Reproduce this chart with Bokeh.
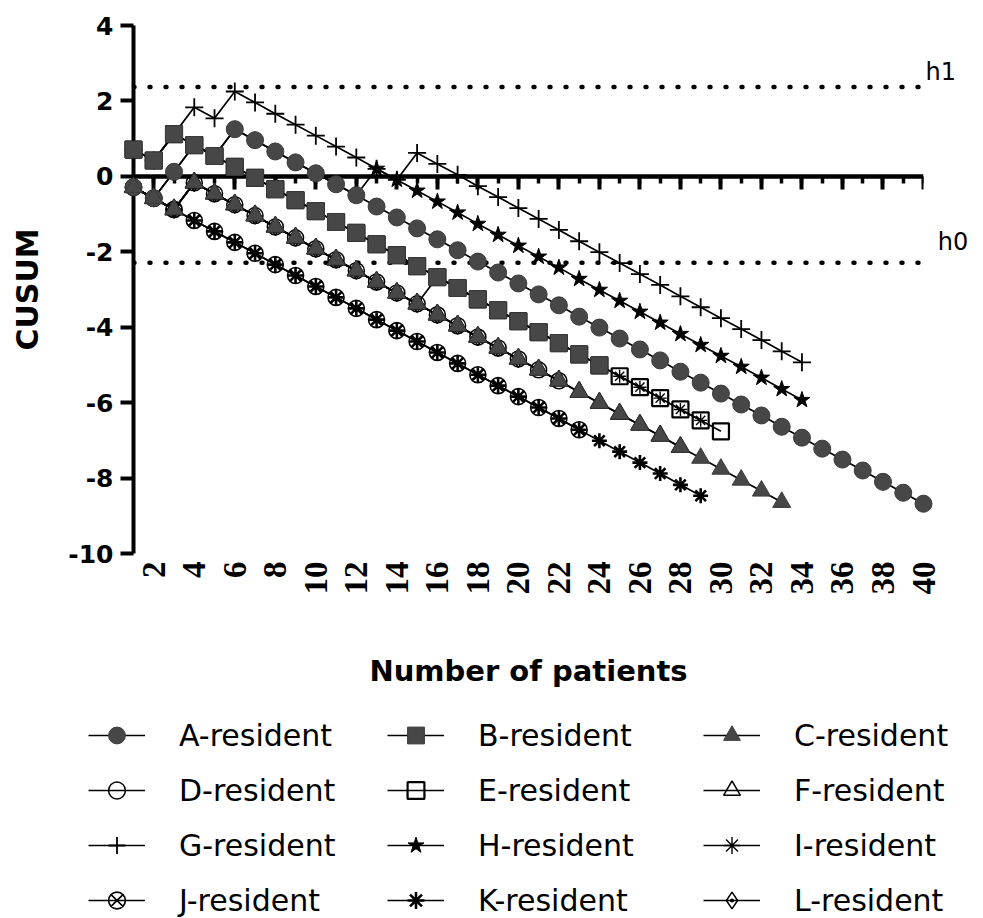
import math
from bokeh.plotting import figure
from bokeh.models import Range1d, LinearAxis, FixedTicker, Legend, LegendItem
from bokeh.layouts import column
from bokeh.embed import file_html
from bokeh.resources import INLINE
from bokeh.core.properties import value

# ---------------- data ----------------
patients_A = list(range(1, 41))
cusum_A = [-0.29, -0.58, 0.12, 0.83, 0.54, 1.25, 0.96, 0.66, 0.37, 0.08,
           -0.21, -0.50, -0.80, -1.09, -1.38, -1.67, -1.96, -2.26, -2.55, -2.84,
           -3.13, -3.42, -3.72, -4.01, -4.30, -4.59, -4.88, -5.18, -5.47, -5.76,
           -6.05, -6.34, -6.64, -6.93, -7.22, -7.51, -7.80, -8.10, -8.39, -8.68]
patients_B = list(range(1, 25))
cusum_B = [0.71, 0.42, 1.12, 0.83, 0.54, 0.25, -0.04, -0.34, -0.63, -0.92,
           -1.21, -1.50, -1.80, -2.09, -2.38, -2.67, -2.96, -3.26, -3.55, -3.84,
           -4.13, -4.42, -4.72, -5.01]
patients_C = list(range(1, 34))
cusum_C = [-0.29, -0.58, -0.88, -0.17, -0.46, -0.75, -1.04, -1.34, -1.63, -1.92,
           -2.21, -2.50, -2.80, -3.09, -3.38, -3.67, -3.96, -4.26, -4.55, -4.84,
           -5.13, -5.42, -5.72, -6.01, -6.30, -6.59, -6.88, -7.18, -7.47, -7.76,
           -8.05, -8.34, -8.64]
patients_D = list(range(1, 23))
cusum_D = [-0.29, -0.58, -0.88, -0.17, -0.46, -0.75, -1.04, -1.34, -1.63, -1.92,
           -2.21, -2.50, -2.80, -3.09, -3.38, -3.67, -3.96, -4.26, -4.55, -4.84,
           -5.13, -5.42]
patients_E = list(range(1, 31))
cusum_E = [0.71, 0.42, 1.12, 0.83, 0.54, 0.25, -0.04, -0.34, -0.63, -0.92,
           -1.21, -1.50, -1.80, -2.09, -2.38, -2.67, -2.96, -3.26, -3.55, -3.84,
           -4.13, -4.42, -4.72, -5.01, -5.30, -5.59, -5.88, -6.18, -6.47, -6.76]
patients_F = list(range(1, 29))
cusum_F = [-0.29, -0.58, -0.88, -0.17, -0.46, -0.75, -1.04, -1.34, -1.63, -1.92,
           -2.21, -2.50, -2.80, -3.09, -3.38, -3.67, -3.96, -4.26, -4.55, -4.84,
           -5.13, -5.42, -5.72, -6.01, -6.30, -6.59, -6.88, -7.18]
patients_G = list(range(1, 35))
cusum_G = [0.71, 0.42, 1.12, 1.83, 1.54, 2.25, 1.96, 1.66, 1.37, 1.08,
           0.79, 0.50, 0.20, -0.09, 0.62, 0.33, 0.04, -0.26, -0.55, -0.84,
           -1.13, -1.42, -1.72, -2.01, -2.30, -2.59, -2.88, -3.18, -3.47, -3.76,
           -4.05, -4.34, -4.64, -4.93]
patients_H = list(range(1, 35))
cusum_H = [-0.29, -0.58, 0.12, 0.83, 0.54, 1.25, 0.96, 0.66, 0.37, 0.08,
           -0.21, -0.50, 0.20, -0.09, -0.38, -0.67, -0.96, -1.26, -1.55, -1.84,
           -2.13, -2.42, -2.72, -3.01, -3.30, -3.59, -3.88, -4.18, -4.47, -4.76,
           -5.05, -5.34, -5.64, -5.93]
patients_I = list(range(1, 30))
cusum_I = [-0.29, -0.58, -0.88, -0.17, -0.46, -0.75, -1.04, -1.34, -1.63, -1.92,
           -2.21, -2.50, -2.80, -3.09, -3.38, -2.67, -2.96, -3.26, -3.55, -3.84,
           -4.13, -4.42, -4.72, -5.01, -5.30, -5.59, -5.88, -6.18, -6.47]
patients_J = list(range(1, 24))
cusum_J = [-0.29, -0.58, -0.88, -1.17, -1.46, -1.75, -2.04, -2.34, -2.63, -2.92,
           -3.21, -3.50, -3.80, -4.09, -4.38, -4.67, -4.96, -5.26, -5.55, -5.84,
           -6.13, -6.42, -6.72]
patients_K = list(range(1, 30))
cusum_K = [-0.29, -0.58, -0.88, -1.17, -1.46, -1.75, -2.04, -2.34, -2.63, -2.92,
           -3.21, -3.50, -3.80, -4.09, -4.38, -4.67, -4.96, -5.26, -5.55, -5.84,
           -6.13, -6.42, -6.72, -7.01, -7.30, -7.59, -7.88, -8.18, -8.47]
patients_L = list(range(1, 21))
cusum_L = [-0.29, -0.58, -0.88, -0.17, -0.46, -0.75, -1.04, -1.34, -1.63, -1.92,
           -2.21, -2.50, -2.80, -3.09, -3.38, -3.67, -3.96, -4.26, -4.55, -4.84]

h1 = 2.37
h0 = -2.29
x_ticks = [2, 4, 6, 8, 10, 12, 14, 16, 18, 20, 22, 24, 26, 28, 30, 32, 34, 36, 38, 40]
x_minor_ticks = list(range(1, 41))
y_ticks = [-10, -8, -6, -4, -2, 0, 2, 4]

series = {
    "A": (patients_A, cusum_A), "B": (patients_B, cusum_B), "C": (patients_C, cusum_C),
    "D": (patients_D, cusum_D), "E": (patients_E, cusum_E), "F": (patients_F, cusum_F),
    "G": (patients_G, cusum_G), "H": (patients_H, cusum_H), "I": (patients_I, cusum_I),
    "J": (patients_J, cusum_J), "K": (patients_K, cusum_K), "L": (patients_L, cusum_L),
}

# ---------------- styles ----------------
GRAY = "#474747"
style = {
    "A": dict(marker="circle", size=17, fill_color=GRAY, line_color="#3a3a3a", line_width=1),
    "B": dict(marker="square", size=17, fill_color=GRAY, line_color="#3a3a3a", line_width=1),
    "C": dict(marker="triangle", size=18, fill_color=GRAY, line_color="#3a3a3a", line_width=1),
    "D": dict(marker="circle", size=16, fill_color=None, line_color="black", line_width=1.5),
    "E": dict(marker="square", size=16, fill_color=None, line_color="black", line_width=2.2),
    "F": dict(marker="triangle", size=18, fill_color=None, line_color="black", line_width=1.5),
    "G": dict(marker="cross", size=18, fill_color=None, line_color="black", line_width=1.8),
    "H": dict(marker="star", size=17, fill_color="black", line_color="black", line_width=1),
    "I": dict(marker="asterisk", size=13, fill_color=None, line_color="black", line_width=1.4),
    "J": dict(marker="circle_x", size=16, fill_color=None, line_color="black", line_width=1.6),
    "K": dict(marker="asterisk", size=15, fill_color=None, line_color="black", line_width=2.6),
    "L": dict(marker="diamond_dot", size=17, fill_color=None, line_color="black", line_width=1.5),
}
draw_order = ["L", "D", "F", "E", "I", "J", "K", "G", "H", "A", "C", "B"]

FONT = "DejaVu Sans"
NARROW = "Liberation Sans Narrow"
W = 983

# ---------------- main plot ----------------
p = figure(frame_width=790, frame_height=528,
           x_range=Range1d(1, 40), y_range=Range1d(-10, 4),
           x_axis_location=None, y_axis_location=None,
           toolbar_location=None, output_backend="svg",
           min_border_left=133, min_border_right=60, min_border_top=25, min_border_bottom=150)
p.outline_line_color = None
p.grid.visible = False

yaxis = LinearAxis(ticker=FixedTicker(ticks=y_ticks), axis_label="CUSUM")
yaxis.major_label_overrides = {t: str(t) for t in y_ticks}
yaxis.axis_line_width = 4
yaxis.major_tick_line_width = 4
yaxis.major_tick_out = 13
yaxis.major_tick_in = 0
yaxis.minor_tick_line_color = None
yaxis.major_label_standoff = 7
yaxis.major_label_text_font = FONT
yaxis.major_label_text_font_style = "bold"
yaxis.major_label_text_font_size = "25px"
yaxis.major_label_text_color = "black"
yaxis.axis_label_text_font = FONT
yaxis.axis_label_text_font_style = "bold"
yaxis.axis_label_text_font_size = "30px"
yaxis.axis_label_text_color = "black"
yaxis.axis_label_standoff = 20
p.add_layout(yaxis, "left")

laxis = LinearAxis(ticker=FixedTicker(ticks=x_ticks), axis_label="Number of patients")
laxis.axis_line_color = None
laxis.major_tick_line_color = None
laxis.minor_tick_line_color = None
laxis.major_tick_out = 0
laxis.major_tick_in = 0
laxis.major_label_standoff = 8
laxis.major_label_orientation = math.pi / 2
laxis.major_label_text_font = NARROW
laxis.major_label_text_font_style = "bold"
laxis.major_label_text_font_size = "33px"
laxis.major_label_text_color = "black"
laxis.axis_label_text_font = FONT
laxis.axis_label_text_font_style = "bold"
laxis.axis_label_text_font_size = "29px"
laxis.axis_label_text_color = "black"
laxis.axis_label_standoff = 56
p.add_layout(laxis, "below")

zaxis = LinearAxis(ticker=FixedTicker(ticks=x_ticks, minor_ticks=x_minor_ticks),
                   fixed_location=0, bounds=(1, 40))
zaxis.axis_line_width = 4.5
zaxis.major_tick_line_width = 4
zaxis.major_tick_out = 13
zaxis.major_tick_in = 0
zaxis.minor_tick_line_width = 3.5
zaxis.minor_tick_out = 7
zaxis.minor_tick_in = 0
zaxis.major_label_text_font_size = "1px"
zaxis.major_label_text_alpha = 0
zaxis.major_label_standoff = 0
p.add_layout(zaxis, "below")

# threshold lines
x_span = [min(patients_A), max(patients_A)]
p.line(x_span, [h1, h1], line_color="black", line_width=4.5, line_dash="1 15", line_cap="round")
p.line(x_span, [h0, h0], line_color="black", line_width=4.5, line_dash="1 15", line_cap="round")
p.text(x=[max(patients_A) + 0.1], y=[h1 + 0.39], text=["h1"], text_font=value(FONT),
       text_font_size="24px", text_align="left", text_baseline="alphabetic", text_color="black",
       level="overlay")
p.text(x=[max(patients_A) + 0.7], y=[h0 + 0.54], text=["h0"], text_font=value(FONT),
       text_font_size="24px", text_align="left", text_baseline="alphabetic", text_color="black",
       level="overlay")

for key in draw_order:
    xs, ys = series[key]
    p.line(xs, ys, line_color="black", line_width=1.7)
    p.scatter(xs, ys, level="overlay", **style[key])

# ---------------- legend (separate strip, same data drawn out of view) ----------------
H_MAIN = 25 + 528 + 150
lf = figure(width=W, height=918 - H_MAIN, x_range=Range1d(1000, 1001), y_range=Range1d(1000, 1001),
            x_axis_location=None, y_axis_location=None,
            toolbar_location=None, output_backend="svg", min_border=0)
lf.frame_align = False
lf.outline_line_color = None
lf.grid.visible = False

leg_lines = {}
leg_marks = {}
for key in "ABCDEFGHIJKL":
    xs, ys = series[key]
    leg_lines[key] = lf.line(xs, ys, line_color="black", line_width=1.7)
    leg_marks[key] = lf.scatter(xs, ys, **style[key])

columns_keys = [["A", "D", "G", "J"], ["B", "E", "H", "K"], ["C", "F", "I", "L"]]
col_x = [88, 387, 703]
for cx, keys in zip(col_x, columns_keys):
    items = [LegendItem(label=value(f"{k}-resident"), renderers=[leg_lines[k], leg_marks[k]])
             for k in keys]
    lg = Legend(items=items, location=(cx, -3), orientation="vertical",
                glyph_width=57, glyph_height=42, label_height=42, spacing=13,
                label_standoff=34, padding=0, margin=0,
                border_line_color=None, background_fill_alpha=0,
                label_text_font=FONT, label_text_font_size="30px",
                label_text_color="black", label_text_baseline="middle")
    lf.add_layout(lg, "center")

layout = column(p, lf)
open("out.html", "w").write(file_html(layout, INLINE))
